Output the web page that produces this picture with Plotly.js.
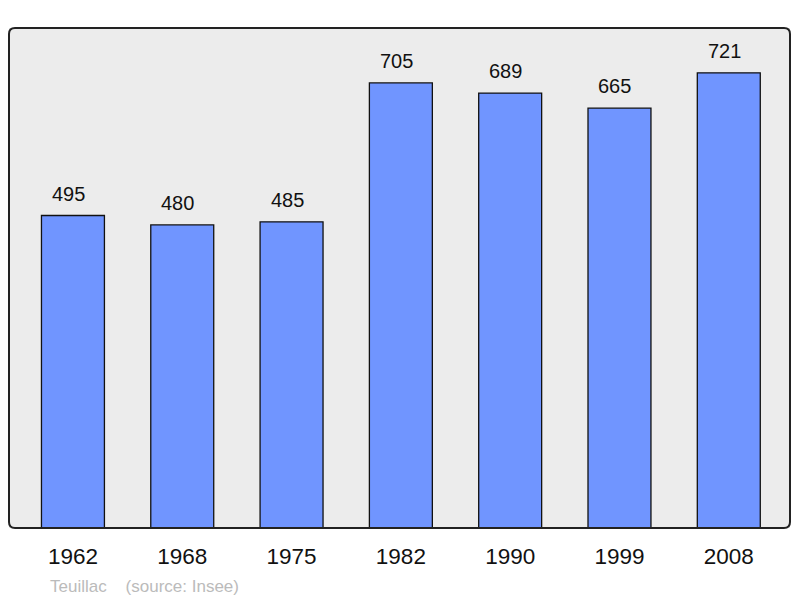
<!DOCTYPE html>
<html>
<head>
<meta charset="utf-8">
<script src="https://cdn.plot.ly/plotly-3.0.1.min.js"></script>
<style>html,body{margin:0;padding:0;background:#fff;}#chart{width:800px;height:598px;}</style>
</head>
<body>
<div id="chart"></div>
<script>
const years = ["1962", "1968", "1975", "1982", "1990", "1999", "2008"];
const population = [495, 480, 485, 705, 689, 665, 721];
const commune = "Teuillac";
const source = "(source: Insee)";

const xRange = [-0.585, 6.56];
const yRange = [0, 792];
const W = 781, H = 500, r = 6;
const rx = r / W, ry = r / H;
const framePath = `M ${rx} 0 L ${1 - rx} 0 Q 1 0 1 ${ry} L 1 ${1 - ry} Q 1 1 ${1 - rx} 1 L ${rx} 1 Q 0 1 0 ${1 - ry} L 0 ${ry} Q 0 0 ${rx} 0 Z`;

const trace = {
  type: "bar",
  x: years.map((_, i) => i),
  y: population,
  width: 0.576,
  marker: {color: "#7095ff", line: {color: "#111", width: 1.3}},
  hoverinfo: "none"
};

const annotations = population.map((v, i) => ({
  x: i, y: v, xref: "x", yref: "y", text: String(v),
  showarrow: false, yanchor: "bottom", yshift: 9, xshift: -4.5,
  font: {family: "Liberation Sans, Arial, sans-serif", size: 20, color: "#111"}
}));
annotations.push({
  xref: "paper", yref: "paper", x: 39 / W, y: -58 / H, xanchor: "left", yanchor: "middle",
  text: commune + "&nbsp;&nbsp;&nbsp;&nbsp;" + source, showarrow: false,
  font: {family: "Liberation Sans, Arial, sans-serif", size: 17, color: "#bbbbbb"}
});

const layout = {
  width: 800, height: 598,
  margin: {l: 9, r: 10, t: 28, b: 70},
  paper_bgcolor: "#ffffff",
  plot_bgcolor: "#ececec",
  showlegend: false,
  xaxis: {
    range: xRange, tickmode: "array", tickvals: years.map((_, i) => i), ticktext: years,
    showgrid: false, zeroline: false, showline: false,
    ticks: "outside", ticklen: 8, tickcolor: "rgba(0,0,0,0)",
    tickfont: {family: "Liberation Sans, Arial, sans-serif", size: 22.5, color: "#111"}
  },
  yaxis: {range: yRange, visible: false, showgrid: false, zeroline: false},
  shapes: [{type: "path", xref: "paper", yref: "paper", path: framePath,
    line: {color: "#222", width: 2}, fillcolor: "rgba(0,0,0,0)", layer: "above"}],
  annotations: annotations
};

Plotly.newPlot("chart", [trace], layout, {staticPlot: true, displayModeBar: false});
</script>
</body>
</html>
